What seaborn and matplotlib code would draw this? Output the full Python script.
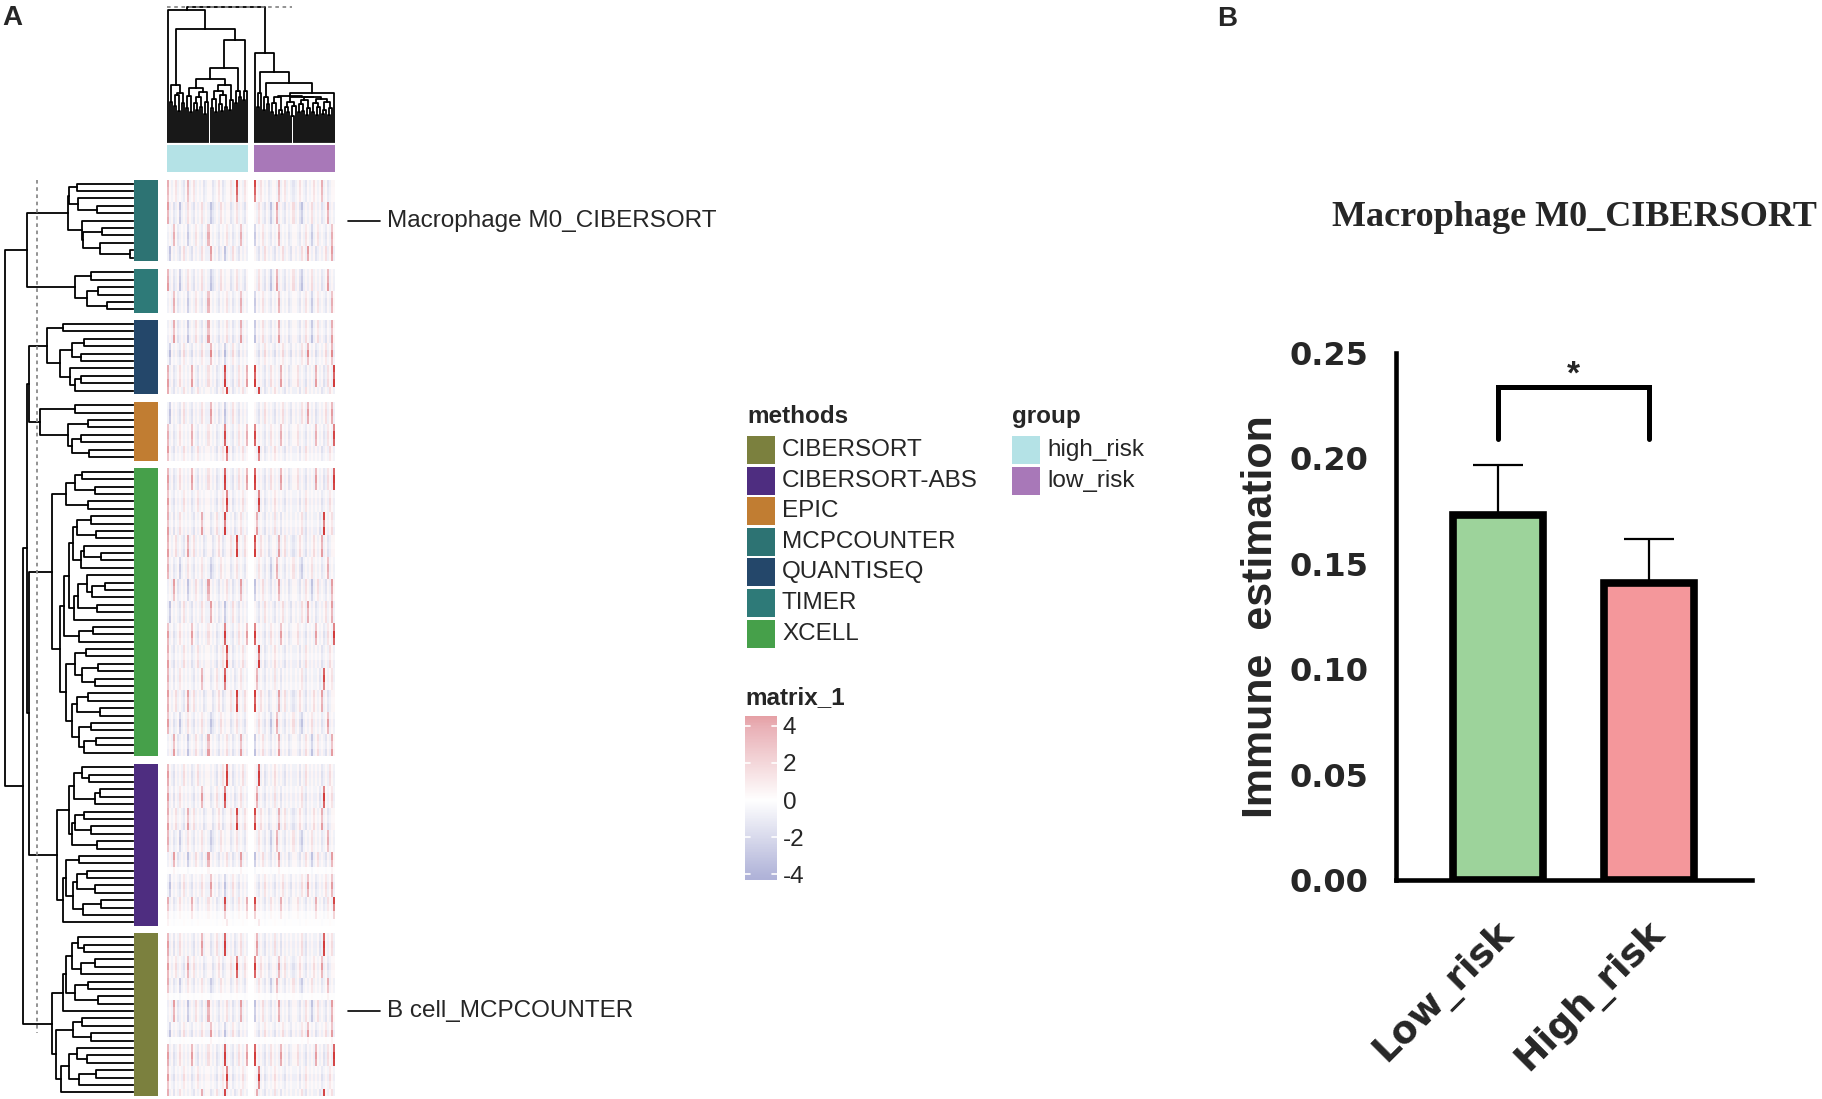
import numpy as np
import pandas as pd
import matplotlib
matplotlib.use('Agg')
import matplotlib.pyplot as plt
import matplotlib.transforms as mtransforms
import seaborn as sns
from matplotlib.colors import LinearSegmentedColormap, ListedColormap
from matplotlib.collections import LineCollection
from matplotlib.patches import Rectangle

sns.set_style('white')
plt.rcParams['font.family'] = ['Liberation Sans', 'DejaVu Sans']

# ---------------- data: panel A (heatmap) ----------------
methods = ['CIBERSORT', 'CIBERSORT-ABS', 'EPIC', 'MCPCOUNTER', 'QUANTISEQ', 'TIMER', 'XCELL']
method_colors = ['#7b803e', '#4e2d80', '#c17d32', '#2d7373', '#24476a', '#2e7a78', '#46a04a']
groups = ['high_risk', 'low_risk']
group_colors = ['#b4e2e6', '#a878b8']

# row slices, top to bottom
slice_methods = ['MCPCOUNTER', 'TIMER', 'QUANTISEQ', 'EPIC', 'XCELL', 'CIBERSORT-ABS', 'CIBERSORT']

# merge height between neighbouring rows inside each slice (root = 1)
slice_row_gaps = [
    [0.44, 0.50, 0.43, 0.28, 0.51, 0.40, 0.24, 0.39, 0.26, 0.02],
    [0.33, 0.45, 0.27, 0.36, 0.20],
    [0.55, 0.67, 0.38, 0.48, 0.41, 0.57, 0.49, 0.41, 0.45],
    [0.45, 0.73, 0.35, 0.51, 0.41, 0.48, 0.34],
    [0.40, 0.45, 0.30, 0.52, 0.35, 0.63, 0.33, 0.44, 0.29, 0.47,
     0.38, 0.25, 0.41, 0.50, 0.36, 0.22, 0.32, 0.43, 0.28, 0.46,
     0.54, 0.31, 0.42, 0.57, 0.37, 0.45, 0.27, 0.40, 0.30, 0.52,
     0.35, 0.44, 0.26, 0.48, 0.33, 0.42, 0.29, 0.38],
    [0.40, 0.34, 0.46, 0.26, 0.30, 0.50, 0.38, 0.45, 0.33, 0.48,
     0.28, 0.59, 0.42, 0.52, 0.36, 0.44, 0.30, 0.47, 0.25, 0.39, 0.55],
    [0.43, 0.38, 0.48, 0.30, 0.41, 0.52, 0.35, 0.45, 0.27, 0.55,
     0.63, 0.40, 0.47, 0.33, 0.60, 0.44, 0.36, 0.50, 0.29, 0.42, 0.56],
]
# merge height between neighbouring slices
slice_join_gaps = [0.828, 1.0, 0.809, 0.828, 0.816, 0.859]

# row intensity (0-9) for every row of each slice
slice_row_weights = [
    '76586757687',
    '678576',
    '7586957687',
    '68757685',
    '6875867587' '6857687586' '7586758675' '867586758',
    '6875867586' '7586' '1' '58675' '21',
    '68758675' '1' '86758' '1' '6875857',
]
# column patterns (40 high_risk + 40 low_risk samples)
profile_high = [
    'r.,.+,.,-. r,.+,.,.-, ..-,.+.-,. .+,.R,.,+.',
    'r,.-,.b,., +.,-.,.+,. ,b-,.,+.,. .-,.+,.,-.',
    ',.,r.-,.,. b,.,+.,-., r.,.,-.,.+ ,.-,.,r,.,',
    ',b.,.,-.+, .,-.,.,+., ,r.,.-,.b, .,+.,-.,.,',
    'r,.-,.+.,. ,.r.,-.,., +.,.-,.,R, .,-.,+.,.r',
    'r.,-.,.,+. ,.-,.+,.,. .,.,-.,+.R ,.-,.,.+,.',
    'r,.-.,+.,. ,.,-.,.r,. .-,.+,.,R, .,.-,.+,.,',
]
profile_low = [
    'R.,+.,.-,. .,r,.+,.,- ,.+.,-.,.+ .,.r,.-,..',
    '.,+.,-.,b, .r,.,-.,.+ ,.-b,.,.+, .,.-,.r,.,',
    'b.,.+,.,-. ,.r,.,.-,. .,-.,+.,b, .+,.,-.,r.',
    '.,-.,+.,., -.,.+,.,-. ,.,+.,r.,. -,.,.+,.r,',
    'R.,.,-.,+. ,.,r.,.-,. .+,.,-.,., r.,.-,+.,R',
    '.,R,.-,.,. +.,.,-.,., ,.-.,+.,., .,.-,.,+.,',
    '.r,.,-.,., +,.-.,.,., .,.+,-.,., ,.-,R.,.+,',
]
level_of = {'.': 0.4, ',': -0.7, '-': -1.3, 'b': -2.5, '+': 1.4, 'r': 3.5, 'R': 6.5}

# merge heights between neighbouring samples (column dendrogram)
col_gaps_high = [0.98, 0.30, 0.42, 0.27, 0.35, 0.23, 0.36, 0.29, 0.84,
                 0.25, 0.34, 0.22, 0.40, 0.29, 0.24, 0.33, 0.26, 0.37, 0.21,
                 0.30, 0.47, 0.25, 0.32, 0.22, 0.38, 0.28, 0.23, 0.35, 0.26,
                 0.42, 0.24, 0.31, 0.55, 0.29, 0.38, 0.33, 0.755, 0.31, 0.38]
col_gaps_low = [0.66, 0.26, 0.36, 0.52, 0.24, 0.33, 0.28, 0.44,
                0.22, 0.29, 0.20, 0.33, 0.24, 0.21, 0.34, 0.26, 0.22, 0.30,
                0.19, 0.27, 0.33, 0.22, 0.28, 0.23, 0.31, 0.20, 0.25, 0.33,
                0.22, 0.29, 0.20, 0.26, 0.32, 0.21, 0.24, 0.30, 0.20, 0.25, 0.36]
group_join_gap = 1.0

marked_names = ['Macrophage M0_CIBERSORT', 'B cell_MCPCOUNTER']
marked_rows = [5, 106]
matrix_ticks = [4, 2, 0, -2, -4]

# ---------------- data: panel B (bars) ----------------
bar_groups = ['Low_risk', 'High_risk']
bar_means = [0.173, 0.141]
bar_sems = [0.024, 0.021]
bar_colors = ['#9dd39b', '#f4979b']
y_ticks = [0.00, 0.05, 0.10, 0.15, 0.20, 0.25]
sig_label = '*'

# ---------------- build tables ----------------
n_per_group = 40
col_gap = 3
n_prof = len(profile_high)
hm_rows, ann_rows, disp_of_row = [], [], []
for s, meth in enumerate(slice_methods):
    assert len(slice_row_gaps[s]) == len(slice_row_weights[s]) - 1
    for r, w in enumerate(slice_row_weights[s]):
        p = (s + r // 3) % n_prof
        hi = profile_high[p].replace(' ', '')
        lo = profile_low[p].replace(' ', '')
        assert len(hi) == n_per_group and len(lo) == n_per_group
        f = int(w) / 6
        disp_of_row.append(len(hm_rows))
        hm_rows.append([level_of[c] * f for c in hi] + [np.nan] * col_gap + [level_of[c] * f for c in lo])
        ann_rows.append([methods.index(meth)])
    if s < len(slice_methods) - 1:
        hm_rows.append([np.nan] * (2 * n_per_group + col_gap))
        ann_rows.append([np.nan])
hm = pd.DataFrame(hm_rows)
ann = np.array(ann_rows, dtype=float)
n_disp = len(hm_rows)
n_cols = 2 * n_per_group + col_gap
grp = np.array([[0] * n_per_group + [np.nan] * col_gap + [1] * n_per_group], dtype=float)

row_gaps = []
for s in range(len(slice_methods)):
    row_gaps += slice_row_gaps[s]
    if s < len(slice_join_gaps):
        row_gaps.append(slice_join_gaps[s])
row_pos = [d + 0.5 for d in disp_of_row]
col_pos = [i + 0.5 for i in range(n_per_group)] + \
          [n_per_group + col_gap + i + 0.5 for i in range(n_per_group)]
col_gaps = col_gaps_high + [group_join_gap] + col_gaps_low


def dendro_segments(pos, gaps):
    segs = []

    def rec(lo, hi):
        if lo == hi:
            return pos[lo], 0.0
        k = lo + int(np.argmax(gaps[lo:hi]))
        h = gaps[k]
        xl, hl = rec(lo, k)
        xr, hr = rec(k + 1, hi)
        segs.append([(xl, hl), (xl, h), (xr, h), (xr, hr)])
        return (xl + xr) / 2, h

    rec(0, len(pos) - 1)
    return segs


heat_cmap = LinearSegmentedColormap.from_list(
    'heat', [(0, '#7f86c2'), (0.25, '#b3b6da'), (0.5, '#ffffff'), (0.75, '#e9b0b6'), (1, '#d23c3c')])

# ---------------- figure ----------------
W, H = 1822, 1099
fig = plt.figure(figsize=(W / 100, H / 100), dpi=100)


def px_axes(x0, y0, x1, y1):
    return fig.add_axes([x0 / W, 1 - y1 / H, (x1 - x0) / W, (y1 - y0) / H])


ov = fig.add_axes([0, 0, 1, 1])
ov.set_xlim(0, W)
ov.set_ylim(H, 0)
ov.axis('off')

HM_X0, HM_X1, HM_Y0, HM_Y1 = 167, 335, 180, 1096

# main heatmap
ax_hm = px_axes(HM_X0, HM_Y0, HM_X1, HM_Y1)
sns.heatmap(hm, cmap=heat_cmap, vmin=-8, vmax=8, cbar=False,
            xticklabels=False, yticklabels=False, ax=ax_hm)

# method annotation
ax_ann = px_axes(134, HM_Y0, 158, HM_Y1)
sns.heatmap(ann, cmap=ListedColormap(method_colors), vmin=-0.5, vmax=len(methods) - 0.5,
            cbar=False, xticklabels=False, yticklabels=False, ax=ax_ann)

# group annotation
ax_grp = px_axes(HM_X0, 145, HM_X1, 172)
sns.heatmap(grp, cmap=ListedColormap(group_colors), vmin=-0.5, vmax=1.5,
            cbar=False, xticklabels=False, yticklabels=False, ax=ax_grp)

# row dendrogram
ax_rd = px_axes(5, HM_Y0, 133, HM_Y1)
segs = dendro_segments(row_pos, row_gaps)
segs = [[(h, p) for p, h in s] for s in segs]
lc = LineCollection(segs, colors='black', linewidths=1.3, capstyle='projecting')
lc.set_clip_on(False)
ax_rd.add_collection(lc)
ax_rd.plot([0.75, 0.75], [0, 115.5], color='#8a8a8a', lw=1.3, ls=(0, (2, 2)))
ax_rd.set_xlim(1.0, 0.0)
ax_rd.set_ylim(n_disp, 0)
ax_rd.axis('off')

# column dendrogram
ax_cd = px_axes(HM_X0, 7, HM_X1, 142)
segs = dendro_segments(col_pos, col_gaps)
lc = LineCollection(segs, colors='black', linewidths=1.3, capstyle='projecting')
lc.set_clip_on(False)
ax_cd.add_collection(lc)
ax_cd.plot([0, 62], [1.0, 1.0], color='#8a8a8a', lw=1.3, ls=(0, (2, 2)), clip_on=False)
ax_cd.set_xlim(0, n_cols)
ax_cd.set_ylim(0, 1.0)
ax_cd.axis('off')

# marked row labels
row_h = (HM_Y1 - HM_Y0) / n_disp
for name, r in zip(marked_names, marked_rows):
    y = HM_Y0 + (disp_of_row[r] + 0.5) * row_h
    ov.plot([348, 380], [y, y], color='black', lw=1.2)
    ov.text(387, y, name, fontsize=17.5, va='center', ha='left')

# legends
ov.text(747, 423, 'methods', fontsize=17.5, fontweight='bold', va='baseline')
for i, (m, c) in enumerate(zip(methods, method_colors)):
    y = 436 + 30.6 * i
    ov.add_patch(Rectangle((747, y), 28, 28, facecolor=c, edgecolor='none'))
    ov.text(782, y + 14, m, fontsize=17.5, va='center')
ov.text(1012, 423, 'group', fontsize=17.5, fontweight='bold', va='baseline')
for i, (g, c) in enumerate(zip(groups, group_colors)):
    y = 436 + 30.6 * i
    ov.add_patch(Rectangle((1012, y), 28, 28, facecolor=c, edgecolor='none'))
    ov.text(1047, y + 14, g, fontsize=17.5, va='center')
ov.text(745, 704, 'matrix_1', fontsize=17.5, fontweight='bold', va='baseline')

cax = px_axes(745, 716, 777, 880)
grad = np.linspace(4.52, -4.3, 200)[:, None]
cax.imshow(grad, cmap=heat_cmap, vmin=-8, vmax=8, aspect='auto', extent=(0, 1, -4.3, 4.52))
cax.set_ylim(-4.3, 4.52)
cax.set_xlim(0, 1)
for v in matrix_ticks:
    cax.plot([0, 0.16], [v, v], color='white', lw=1.2)
    cax.plot([0.84, 1], [v, v], color='white', lw=1.2)
cax.yaxis.tick_right()
cax.set_yticks(matrix_ticks)
cax.set_yticklabels([str(t) for t in matrix_ticks])
cax.set_xticks([])
cax.tick_params(axis='y', length=0, pad=4, labelsize=17.5)
for sp in cax.spines.values():
    sp.set_visible(False)

# ---------------- panel B ----------------
axb = px_axes(1396, 353, 1752, 880)
df_bar = pd.DataFrame({'group': bar_groups, 'value': bar_means})
sns.barplot(data=df_bar, x='group', y='value', hue='group', order=bar_groups,
            palette=bar_colors, saturation=1, edgecolor='black', linewidth=5.5, width=0.6,
            errorbar=None, legend=False, ax=axb)
axb.errorbar(range(len(bar_groups)), bar_means, yerr=[[0] * len(bar_sems), bar_sems],
             fmt='none', ecolor='black', elinewidth=1.6, capsize=18, capthick=1.6, zorder=0.5)
axb.plot([0, 0, 1, 1], [0.2092, 0.2339, 0.2339, 0.2092], color='black', lw=3.6,
         solid_joinstyle='miter', clip_on=False)
axb.text(0.5, 0.2395, sig_label, ha='center', va='center', fontsize=24, fontweight='bold')

axb.set_xlim(-0.675, 1.682)
axb.set_ylim(0, 0.25)
axb.set_yticks(y_ticks)
axb.set_yticklabels([f'{t:.2f}' for t in y_ticks], family='DejaVu Sans', fontweight='bold', fontsize=23)
axb.set_xticks(range(len(bar_groups)))
axb.set_xticklabels([])
# rotated category labels, anchored just below each tick
lab_tr = mtransforms.blended_transform_factory(axb.transData, axb.transAxes) + \
    mtransforms.ScaledTranslation(0.10, -0.47, fig.dpi_scale_trans)
for i, g in enumerate(bar_groups):
    axb.text(i, 0, g, transform=lab_tr, family='DejaVu Sans', fontweight='bold', fontsize=27,
             rotation=45, ha='right', va='center', rotation_mode='anchor')
axb.set_xlabel('')
axb.set_ylabel('Immune  estimation', fontsize=31, fontweight='bold', va='center')
axb.yaxis.set_label_coords(-0.378, 0.5)
sns.despine(ax=axb)
for side in ['left', 'bottom']:
    axb.spines[side].set_linewidth(3.3)
    axb.spines[side].set_color('black')
axb.tick_params(axis='y', length=13.5, width=3, pad=6.5, color='black')
axb.tick_params(axis='x', length=14, width=3, color='black')

fig.text(1574 / W, 1 - 217 / H, 'Macrophage M0_CIBERSORT', ha='center', va='center',
         family='Liberation Serif', fontweight='bold', fontsize=26)

ov.text(2, 5, 'A', fontsize=20, fontweight='bold', va='top', ha='left')
ov.text(1217, 6, 'B', fontsize=20, fontweight='bold', va='top', ha='left')

fig.savefig('out.png', dpi=100)
